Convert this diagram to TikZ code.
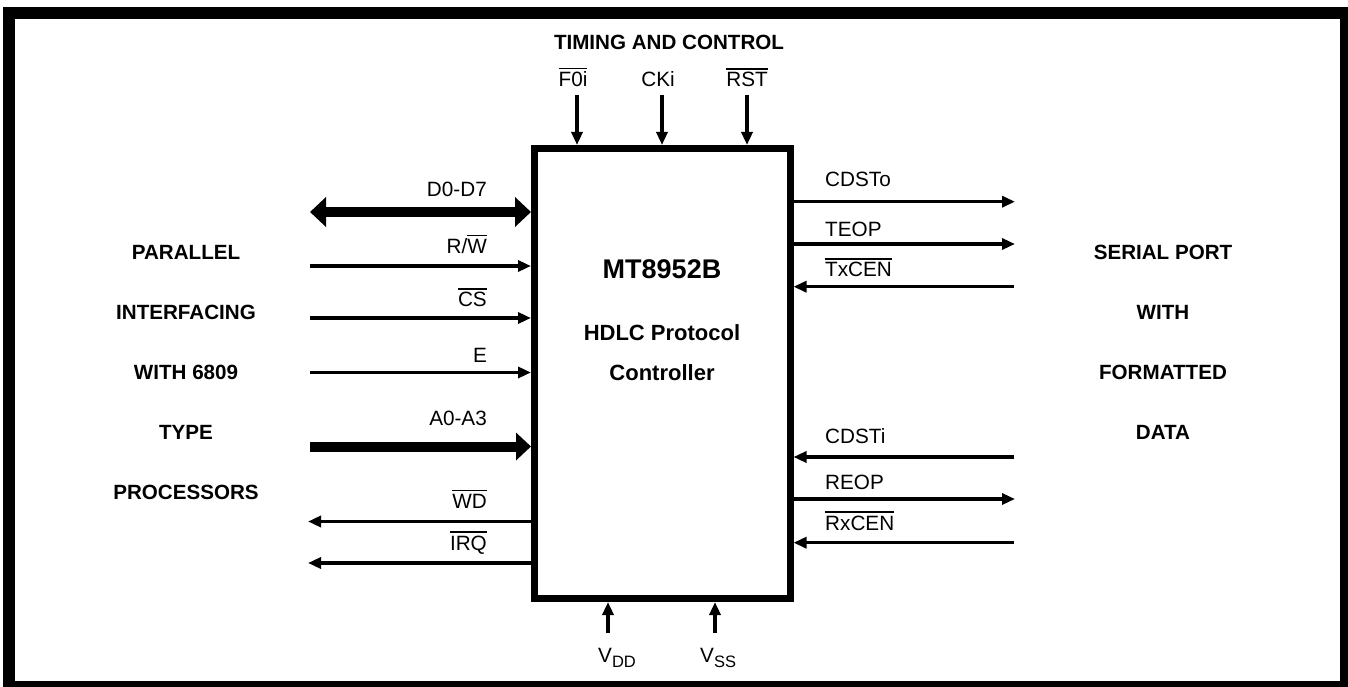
\documentclass[tikz,border=0pt]{standalone}
\usepackage{fontspec}
\setmainfont{Liberation Sans}
\usetikzlibrary{arrows.meta}
\newcommand\ovl[1]{\vbox{\hrule height 1.5pt\kern 2.6pt\hbox{#1}}}
\newcommand\subsc[1]{\raisebox{-5.5pt}{\fontsize{16.5}{18}\selectfont #1}}
\tikzset{
  sig/.style={line width=3.5pt, -{Triangle[length=13pt,width=11pt]}},
  pinarrow/.style={line width=4pt, -{Triangle[length=13pt,width=11pt]}},
  bus/.style={line width=10pt, -{Triangle[length=15pt,width=27pt]}},
  busd/.style={line width=10pt, {Triangle[length=16pt,width=29pt]}-{Triangle[length=16pt,width=29pt]}},
  lbl/.style={font=\fontsize{20.7}{24}\selectfont, inner sep=0pt},
  ttl/.style={font=\bfseries\fontsize{20.6}{24}\selectfont, inner sep=0pt, anchor=base},
}
\begin{document}
\begin{tikzpicture}[x=1pt,y=-1pt]
\useasboundingbox (0,0) rectangle (1348,687);
% frame
\fill[black] (3,7) rectangle (1348,687);
\fill[white] (15,19) rectangle (1340,681);
% chip
\node[draw, line width=7pt, minimum width=255.5pt, minimum height=450pt,
      inner sep=0pt, outer sep=3.5pt] (chip) at (662.25,373.5) {};
\node[font=\bfseries\fontsize{27}{30}\selectfont, inner sep=0pt, anchor=base] (name) at (662,278) {MT8952B};
\node[ttl, font=\bfseries\fontsize{22}{24}\selectfont] (desc1) at (662,340) {HDLC Protocol};
\node[ttl, font=\bfseries\fontsize{22}{24}\selectfont] (desc2) at (662,380) {Controller};
% top
\node[ttl] (tc) at (669,50) {TIMING AND CONTROL};
\node[lbl, anchor=base] (lf0i) at (573,87) {\ovl{F0i}};
\node[lbl, anchor=base] (lcki) at (658,87) {CKi};
\node[lbl, anchor=base] (lrst) at (747,87) {\ovl{RST}};
\coordinate (tf0i) at (577,95);
\coordinate (tcki) at (662,95);
\coordinate (trst) at (747,95);
\draw[pinarrow] (tf0i) -- (tf0i |- chip.north);
\draw[pinarrow] (tcki) -- (tcki |- chip.north);
\draw[pinarrow] (trst) -- (trst |- chip.north);
% bottom
\coordinate (bvdd) at (608,633);
\coordinate (bvss) at (715,633);
\draw[pinarrow] (bvdd) -- (bvdd |- chip.south);
\draw[pinarrow] (bvss) -- (bvss |- chip.south);
\node[lbl, anchor=base west] (lvdd) at (598,662) {V\subsc{DD}};
\node[lbl, anchor=base west] (lvss) at (700,662) {V\subsc{SS}};
% left block
\node[ttl] (p1) at (186,259) {PARALLEL};
\node[ttl] (p2) at (186,319) {INTERFACING};
\node[ttl] (p3) at (186,379) {WITH 6809};
\node[ttl] (p4) at (186,439) {TYPE};
\node[ttl] (p5) at (186,499) {PROCESSORS};
% right block
\node[ttl] (s1) at (1163,259) {SERIAL PORT};
\node[ttl] (s2) at (1163,319) {WITH};
\node[ttl] (s3) at (1163,379) {FORMATTED};
\node[ttl] (s4) at (1163,439) {DATA};
% left signals
\coordinate (ld) at (310,212);
\coordinate (lrw) at (310,266);
\coordinate (lcs) at (310,318);
\coordinate (le) at (310,372.5);
\coordinate (la) at (310,446.5);
\coordinate (lwd) at (308,521.5);
\coordinate (lirq) at (308,563);
\draw[busd] (ld) -- (ld -| chip.west);
\draw[sig] (lrw) -- (lrw -| chip.west);
\draw[sig] (lcs) -- (lcs -| chip.west);
\draw[sig] (le) -- (le -| chip.west);
\draw[bus] (la) -- (la -| chip.west);
\draw[sig] (lwd -| chip.west) -- (lwd);
\draw[sig] (lirq -| chip.west) -- (lirq);
\node[lbl, anchor=base east] (tld) at (487,196.7) {D0-D7};
\node[lbl, anchor=base east] (tlrw) at (487,253) {R/\ovl{W}};
\node[lbl, anchor=base east] (tlcs) at (487,306.7) {\ovl{CS}};
\node[lbl, anchor=base east] (tle) at (487,362) {E};
\node[lbl, anchor=base east] (tla) at (487,425) {A0-A3};
\node[lbl, anchor=base east] (tlwd) at (487,508) {\ovl{WD}};
\node[lbl, anchor=base east] (tlirq) at (487,550) {\ovl{IRQ}};
% right signals
\coordinate (rcdo) at (1015,201.7);
\coordinate (rteop) at (1015,244);
\coordinate (rtxc) at (1014,286.7);
\coordinate (rcdi) at (1014,457);
\coordinate (rreop) at (1015,499);
\coordinate (rrxc) at (1014,542.7);
\draw[sig] (rcdo -| chip.east) -- (rcdo);
\draw[sig] (rteop -| chip.east) -- (rteop);
\draw[sig] (rtxc) -- (rtxc -| chip.east);
\draw[sig] (rcdi) -- (rcdi -| chip.east);
\draw[sig] (rreop -| chip.east) -- (rreop);
\draw[sig] (rrxc) -- (rrxc -| chip.east);
\node[lbl, anchor=base west] (trcdo) at (825,186) {CDSTo};
\node[lbl, anchor=base west] (trteop) at (825,236.7) {TEOP};
\node[lbl, anchor=base west] (trtxc) at (825,276.7) {\ovl{TxCEN}};
\node[lbl, anchor=base west] (trcdi) at (825,443.3) {CDSTi};
\node[lbl, anchor=base west] (trreop) at (825,489.3) {REOP};
\node[lbl, anchor=base west] (trrxc) at (825,530) {\ovl{RxCEN}};
\end{tikzpicture}
\end{document}
